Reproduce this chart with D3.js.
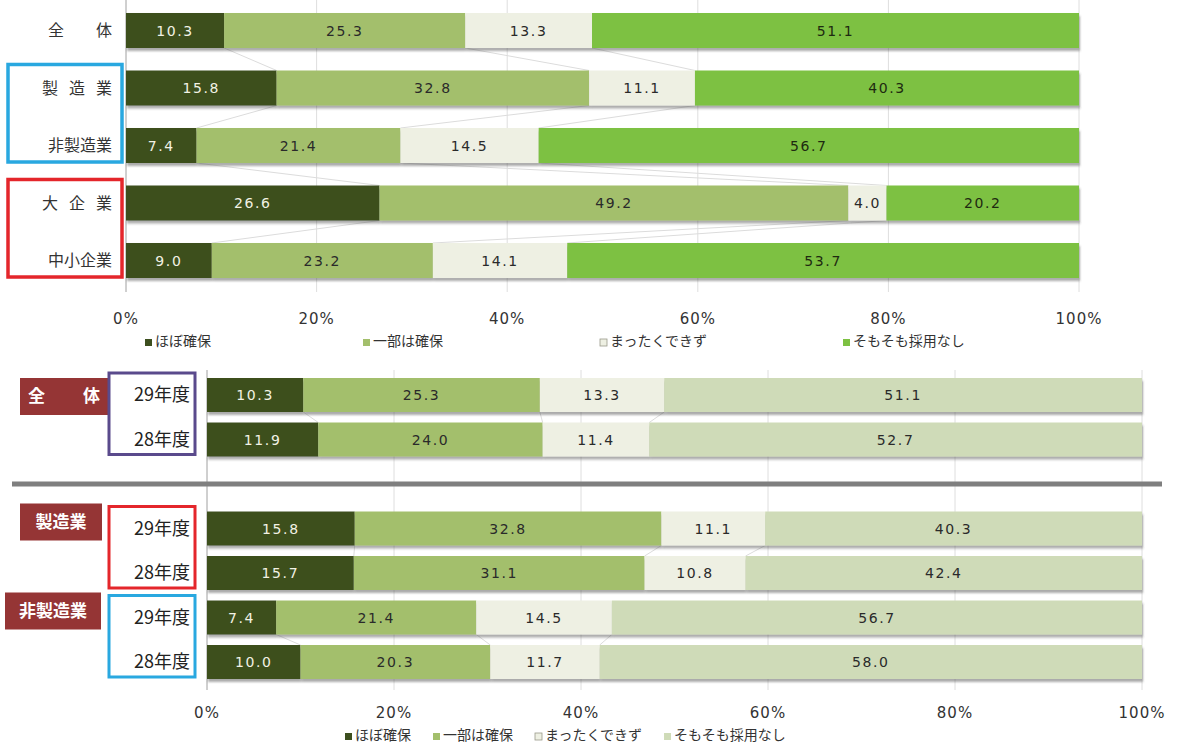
<!DOCTYPE html>
<html>
<head>
<meta charset="utf-8">
<script src="https://cdn.jsdelivr.net/npm/d3@7"></script>
<style>
  body { margin: 0; background: #fff; }
  svg { display: block; }
</style>
</head>
<body>
<svg id="chart" width="1177" height="747"></svg>
<script>
// ---- data ----
const seriesNames = ["ほぼ確保", "一部は確保", "まったくできず", "そもそも採用なし"];
const tickLabels = ["0%", "20%", "40%", "60%", "80%", "100%"];

// top chart: by industry / size
const topCategories = ["全体", "製造業", "非製造業", "大企業", "中小企業"];
const topSecured = [10.3, 15.8, 7.4, 26.6, 9.0];
const topPartly = [25.3, 32.8, 21.4, 49.2, 23.2];
const topNone = [13.3, 11.1, 14.5, 4.0, 14.1];
const topNoHiring = [51.1, 40.3, 56.7, 20.2, 53.7];

// bottom chart: fiscal year comparison
const bottomGroups = ["全体", "製造業", "非製造業"];
const bottomYears = ["29年度", "28年度"];
const bottomSecured = [10.3, 11.9, 15.8, 15.7, 7.4, 10.0];
const bottomPartly = [25.3, 24.0, 32.8, 31.1, 21.4, 20.3];
const bottomNone = [13.3, 11.4, 11.1, 10.8, 14.5, 11.7];
const bottomNoHiring = [51.1, 52.7, 40.3, 42.4, 56.7, 58.0];

// ---- drawing ----
const svg = d3.select("#chart");
const numFont = "'DejaVu Sans', Verdana, sans-serif";
const jpFont = "'Noto Sans CJK JP', 'Noto Sans', sans-serif";

const defs = svg.append("defs");
const shadow = defs.append("filter").attr("id", "shadow")
  .attr("x", "-2%").attr("y", "-20%").attr("width", "104%").attr("height", "160%");
shadow.append("feDropShadow")
  .attr("dx", 1).attr("dy", 3).attr("stdDeviation", 1.3)
  .attr("flood-color", "#444").attr("flood-opacity", 0.45);

function buildRows(keys, cols) {
  return keys.map((k, i) => {
    let acc = 0;
    const segs = cols.map((c, j) => {
      const s = { series: j, x0: acc, x1: acc + c[i], value: c[i] };
      acc += c[i];
      return s;
    });
    return { key: k, segs };
  });
}

function drawBars(g, rows, x, y, colors, textColors) {
  const row = g.selectAll("g.row").data(rows).join("g")
    .attr("class", "row")
    .attr("filter", "url(#shadow)");
  row.selectAll("rect").data(d => d.segs.map(s => ({ ...s, key: d.key }))).join("rect")
    .attr("x", d => x(d.x0))
    .attr("y", d => y(d.key))
    .attr("width", d => x(d.x1) - x(d.x0))
    .attr("height", y.bandwidth())
    .attr("fill", d => colors[d.series]);
  const lab = g.selectAll("g.lab").data(rows).join("g").attr("class", "lab");
  lab.selectAll("text").data(d => d.segs.map(s => ({ ...s, key: d.key }))).join("text")
    .attr("x", d => (x(d.x0) + x(d.x1)) / 2)
    .attr("y", d => y(d.key) + y.bandwidth() / 2)
    .attr("dy", "0.36em")
    .attr("text-anchor", "middle")
    .attr("font-family", numFont)
    .attr("font-size", 14)
    .attr("letter-spacing", "1.6px")
    .attr("fill", d => textColors[d.series])
    .text(d => d.value.toFixed(1));
}

function seriesLines(g, pairs, rows, x, y) {
  pairs.forEach(([a, b]) => {
    const ra = rows[a], rb = rows[b];
    for (let k = 0; k < 3; k++) {
      g.append("line")
        .attr("x1", x(ra.segs[k].x1)).attr("y1", y(ra.key) + y.bandwidth())
        .attr("x2", x(rb.segs[k].x1)).attr("y2", y(rb.key))
        .attr("stroke", "#dcdcdc").attr("stroke-width", 1);
    }
  });
}

function drawGrid(g, x, y0, y1) {
  g.selectAll("line.grid").data(d3.range(0, 101, 20)).join("line")
    .attr("class", "grid")
    .attr("x1", d => x(d)).attr("x2", d => x(d))
    .attr("y1", y0).attr("y2", y1)
    .attr("stroke", d => d === 0 ? "#a0a0a0" : "#dedede")
    .attr("stroke-width", 1);
}

function drawTicks(g, x, yPos) {
  g.selectAll("text.tick").data(tickLabels).join("text")
    .attr("class", "tick")
    .attr("x", (d, i) => x(i * 20))
    .attr("y", yPos)
    .attr("text-anchor", "middle")
    .attr("font-family", numFont)
    .attr("font-size", 15)
    .attr("letter-spacing", "1px")
    .attr("fill", "#333")
    .text(d => d);
}

function drawLegend(g, xs, yPos, swatch) {
  const item = g.selectAll("g.leg").data(seriesNames).join("g")
    .attr("class", "leg")
    .attr("transform", (d, i) => `translate(${xs[i]},${yPos})`);
  item.append("rect")
    .attr("x", 0).attr("y", -7).attr("width", 7).attr("height", 7)
    .attr("fill", (d, i) => swatch[i])
    .attr("stroke", (d, i) => i === 2 ? "#9a9a8a" : "none")
    .attr("stroke-width", 0.8);
  item.append("text")
    .attr("x", 10).attr("y", 0)
    .attr("font-family", jpFont)
    .attr("font-size", 14)
    .attr("fill", "#333")
    .text(d => d);
}

// ---------- top chart ----------
const topColors = ["#3d4f1f", "#a3bf6c", "#eef0e3", "#7dc142"];
const topText = ["#f2f2e4", "#2a2a2a", "#2a2a2a", "#1e2a10"];
const topX = d3.scaleLinear().domain([0, 100]).range([126, 1079]);
const topY = d3.scaleBand().domain(topCategories).range([1.75, 289.25])
  .paddingInner(0.391).paddingOuter(0.1955);
const topRows = buildRows(topCategories, [topSecured, topPartly, topNone, topNoHiring]);

const topG = svg.append("g");
drawGrid(topG, topX, 0, 292);
seriesLines(topG, d3.range(topRows.length - 1).map(i => [i, i + 1]), topRows, topX, topY);
drawBars(topG, topRows, topX, topY, topColors, topText);

// labels are spread to a common width like the original
topG.selectAll("text.cat").data(topCategories).join("text")
  .attr("class", "cat")
  .attr("x", 112)
  .attr("y", d => topY(d) + topY.bandwidth() / 2)
  .attr("dy", "0.36em")
  .attr("text-anchor", "end")
  .attr("font-family", jpFont)
  .attr("font-size", 16)
  .attr("fill", "#333")
  .attr("textLength", d => d.length === 2 ? 64 : (d.length === 3 ? 70 : null))
  .attr("lengthAdjust", "spacing")
  .text(d => d);

// group boxes
const boxTop = [
  { a: topCategories[1], b: topCategories[2], color: "#29a8e0" },
  { a: topCategories[3], b: topCategories[4], color: "#e4262b" }
];
topG.selectAll("rect.box").data(boxTop).join("rect")
  .attr("class", "box")
  .attr("x", 8)
  .attr("y", d => topY(d.a) - 6)
  .attr("width", 114)
  .attr("height", d => topY(d.b) + topY.bandwidth() - topY(d.a) + 5)
  .attr("fill", "none")
  .attr("stroke", d => d.color)
  .attr("stroke-width", 3.5);

drawTicks(topG, topX, 324);
drawLegend(topG, [145, 363, 600, 843], 346, topColors);

// ---------- bottom chart ----------
const botColors = ["#3d4f1f", "#a3bf6c", "#eef0e3", "#cfdbb8"];
const botText = ["#f2f2e4", "#2a2a2a", "#2a2a2a", "#2a2a2a"];
const botKeys = [];
bottomGroups.forEach((gname, gi) => {
  bottomYears.forEach(yr => botKeys.push(gname + "|" + yr));
  if (gi === 0) botKeys.push("gap");
});
const barKeys = botKeys.filter(k => k !== "gap");
const botX = d3.scaleLinear().domain([0, 100]).range([207, 1142]);
const botY = d3.scaleBand().domain(botKeys).range([372.75, 684.25])
  .paddingInner(0.236).paddingOuter(0.118);
const botRows = buildRows(barKeys, [bottomSecured, bottomPartly, bottomNone, bottomNoHiring]);

const botG = svg.append("g");
drawGrid(botG, botX, 370, 690);

// separator between 全体 and the industry groups
const sepY = botY("gap") + botY.bandwidth() / 2;
botG.append("rect")
  .attr("x", 12).attr("y", sepY - 2.5).attr("width", 1150).attr("height", 5)
  .attr("fill", "#7f7f7f");

seriesLines(botG, [[0, 1], [2, 3], [4, 5]], botRows, botX, botY);
drawBars(botG, botRows, botX, botY, botColors, botText);

// group labels (dark red boxes) and year boxes
const groupBoxColors = ["#5a4a8c", "#e4262b", "#29a8e0"];
bottomGroups.forEach((gname, gi) => {
  const k29 = gname + "|" + bottomYears[0];
  const k28 = gname + "|" + bottomYears[1];
  const yTop = botY(k29);
  const labW = gi === 2 ? 96 : (gi === 1 ? 82 : 88);
  const labX = gi === 2 ? 5 : 20;
  const labY = gi === 0 ? yTop : yTop - 8;
  botG.append("rect")
    .attr("x", labX).attr("y", labY).attr("width", labW).attr("height", 37)
    .attr("fill", "#953535");
  botG.append("text")
    .attr("x", labX + labW / 2).attr("y", labY + 18).attr("dy", "0.36em")
    .attr("text-anchor", "middle")
    .attr("font-family", jpFont).attr("font-size", 17).attr("font-weight", 700)
    .attr("fill", "#fff")
    .attr("textLength", gname.length === 2 ? 72 : null)
    .attr("lengthAdjust", "spacing")
    .text(gname);
  botG.append("rect")
    .attr("x", 109).attr("y", yTop - 5)
    .attr("width", 86)
    .attr("height", botY(k28) + botY.bandwidth() - yTop + 3)
    .attr("fill", "none")
    .attr("stroke", groupBoxColors[gi])
    .attr("stroke-width", 3);
  [k29, k28].forEach((k, j) => {
    botG.append("text")
      .attr("x", 190).attr("y", botY(k) + botY.bandwidth() / 2).attr("dy", "0.36em")
      .attr("text-anchor", "end")
      .attr("font-family", jpFont).attr("font-size", 18)
      .attr("fill", "#222")
      .text(bottomYears[j]);
  });
});

drawTicks(botG, botX, 718);

// compact legend, laid out by measured text width
const legB = botG.append("g");
drawLegend(legB, [0, 0, 0, 0], 740, botColors);
let cx = 345;
legB.selectAll("g.leg").each(function () {
  const w = d3.select(this).select("text").node().getComputedTextLength();
  d3.select(this).attr("transform", `translate(${cx},740)`);
  cx += 10 + w + 22;
});
</script>
</body>
</html>
